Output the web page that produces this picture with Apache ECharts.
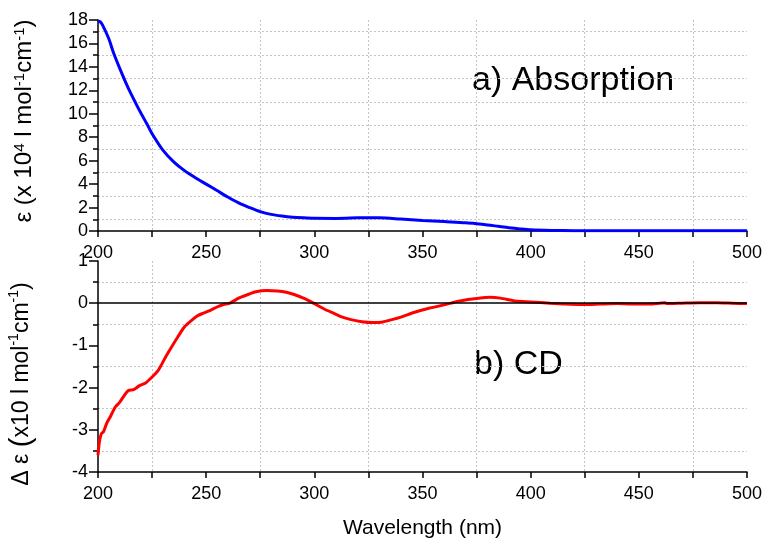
<!DOCTYPE html>
<html>
<head>
<meta charset="utf-8">
<script src="https://cdn.jsdelivr.net/npm/echarts@6/dist/echarts.min.js"></script>
<style>html,body{margin:0;padding:0;background:#fff}#c{width:765px;height:540px}</style>
</head>
<body>
<div id="c"></div>
<script>
// Wavelength (nm) and absorption epsilon (x10^4 l mol^-1 cm^-1)
const absWavelength = [200,201,202,205,207,210,213,215,218,220,223,225,230,235,240,245,250,255,260,265,270,275,280,285,290,295,300,310,320,325,330,340,350,360,370,375,380,385,390,395,400,410,420,450,500];
const absValues     = [17.9,17.85,17.6,16.4,15.3,13.9,12.6,11.8,10.7,10.0,9.0,8.3,6.9,5.9,5.15,4.55,4.0,3.45,2.9,2.4,2.0,1.65,1.42,1.28,1.18,1.12,1.08,1.07,1.12,1.14,1.13,1.02,0.9,0.8,0.7,0.62,0.52,0.4,0.28,0.18,0.1,0.05,0.03,0.02,0.02];

// Wavelength (nm) and CD delta epsilon (x10 l mol^-1 cm^-1)
const cdWavelength = [200,200.6,201.5,202.6,204,206,208,210,212.5,214,216.5,219,222,225,228,231,234,237,240,243,246,248,251,255,258,261,265,269,273,278,283,287,291,295,300,305,309,313,317,322,327,331,335,340,346,353,360,366,371,376,381,386,393,400,409,416,424,432,440,447,455,462,463,470,478,486,493,500];
const cdValues     = [-3.6,-3.3,-3.1,-3.04,-2.85,-2.66,-2.46,-2.35,-2.16,-2.07,-2.05,-1.96,-1.89,-1.75,-1.58,-1.30,-1.04,-0.79,-0.56,-0.42,-0.30,-0.25,-0.19,-0.09,-0.03,0.0,0.12,0.2,0.27,0.30,0.29,0.26,0.2,0.12,-0.01,-0.15,-0.24,-0.33,-0.39,-0.44,-0.46,-0.45,-0.40,-0.33,-0.22,-0.12,-0.04,0.04,0.09,0.12,0.14,0.12,0.05,0.03,0.0,-0.02,-0.03,-0.02,-0.01,-0.02,-0.02,0.01,-0.01,0.0,0.01,0.01,0.0,-0.01];

const xTicks = [200, 250, 300, 350, 400, 450, 500];
const absTicks = [0, 2, 4, 6, 8, 10, 12, 14, 16, 18];
const cdTicks = [-4, -3, -2, -1, 0, 1];

const labelA = 'a) Absorption';
const labelB = 'b) CD';
const xTitle = 'Wavelength (nm)';

const FONT = 'Liberation Sans, Arial, sans-serif';
const gridDash = {color: '#c4c4c4', type: [2, 2], width: 1};

function xAxisCfg(idx, showName) {
  return {
    type: 'value', gridIndex: idx,
    min: xTicks[0], max: xTicks[xTicks.length - 1], interval: xTicks[1] - xTicks[0],
    axisLine: {show: true, onZero: false, lineStyle: {color: '#000', width: 1.5}},
    axisTick: {show: true, length: 6, lineStyle: {color: '#000', width: 1.5}},
    minorTick: {show: true, splitNumber: 2, length: 6, lineStyle: {color: '#000', width: 1.5}},
    splitLine: {show: false},
    minorSplitLine: {show: true, lineStyle: gridDash},
    axisLabel: {color: '#000', fontSize: 18, fontFamily: FONT, margin: 13},
    name: showName ? xTitle : '',
    nameLocation: 'middle', nameGap: 46,
    nameTextStyle: {color: '#000', fontSize: 21, fontFamily: FONT}
  };
}
function yAxisCfg(idx, ticks) {
  return {
    type: 'value', gridIndex: idx,
    min: ticks[0], max: ticks[ticks.length - 1], interval: ticks[1] - ticks[0],
    axisLine: {show: true, onZero: false, lineStyle: {color: '#000', width: 1.5}},
    axisTick: {show: true, length: 9, lineStyle: {color: '#000', width: 1.5}},
    minorTick: {show: true, splitNumber: 2, length: 5, lineStyle: {color: '#000', width: 1.5}},
    splitLine: {show: false},
    minorSplitLine: {show: true, lineStyle: gridDash},
    axisLabel: {color: '#000', fontSize: 18, fontFamily: FONT, margin: 10}
  };
}

const chart = echarts.init(document.getElementById('c'), null, {renderer: 'canvas'});
const richTop = {
  a: {fontSize: 24, fontFamily: FONT, color: '#000'},
  s: {fontSize: 15, fontFamily: FONT, color: '#000', verticalAlign: 'top', padding: [0, 0, 9, 0]}
};
const richBot = {
  a: {fontSize: 23, fontFamily: FONT, color: '#000'},
  p: {fontSize: 29, fontFamily: FONT, color: '#000'},
  s: {fontSize: 14, fontFamily: FONT, color: '#000', verticalAlign: 'top', padding: [0, 0, 9, 0]}
};
chart.setOption({
  animation: false,
  backgroundColor: '#fff',
  grid: [
    {left: 98, right: 17, top: 20, height: 211},
    {left: 98, right: 17, top: 261, height: 211}
  ],
  xAxis: [xAxisCfg(0, false), xAxisCfg(1, true)],
  yAxis: [yAxisCfg(0, absTicks), yAxisCfg(1, cdTicks)],
  series: [
    {
      type: 'line', xAxisIndex: 0, yAxisIndex: 0,
      data: absWavelength.map((w, i) => [w, absValues[i]]),
      showSymbol: false, smooth: 0.3,
      lineStyle: {color: '#0000ff', width: 3}, itemStyle: {color: '#0000ff'}
    },
    {
      type: 'line', xAxisIndex: 1, yAxisIndex: 1,
      data: cdWavelength.map((w, i) => [w, cdValues[i]]),
      showSymbol: false, smooth: 0.2,
      lineStyle: {color: '#ff0000', width: 3}, itemStyle: {color: '#ff0000'},
      markLine: {
        silent: true, symbol: 'none', label: {show: false},
        lineStyle: {color: '#000', type: 'solid', width: 1.5},
        data: [{yAxis: 0}]
      }
    }
  ],
  graphic: [
    {type: 'text', left: 472, top: 64, style: {text: labelA, font: '34px ' + FONT, fill: '#000'}},
    {type: 'text', left: 474, top: 348, style: {text: labelB, font: '34px ' + FONT, fill: '#000'}},
    {type: 'text', x: 24, y: 121, rotation: Math.PI / 2,
      style: {text: '{a|ε (x 10}{s|4}{a| l mol}{s|-1}{a|cm}{s|-1}{a|)}', rich: richTop, align: 'center', verticalAlign: 'middle'}},
    {type: 'text', x: 22, y: 384, rotation: Math.PI / 2,
      style: {text: '{a|Δ ε }{p|(}{a|x10 l mol}{s|-1}{a|cm}{s|-1}{a|)}', rich: richBot, align: 'center', verticalAlign: 'middle'}}
  ]
});
</script>
</body>
</html>
